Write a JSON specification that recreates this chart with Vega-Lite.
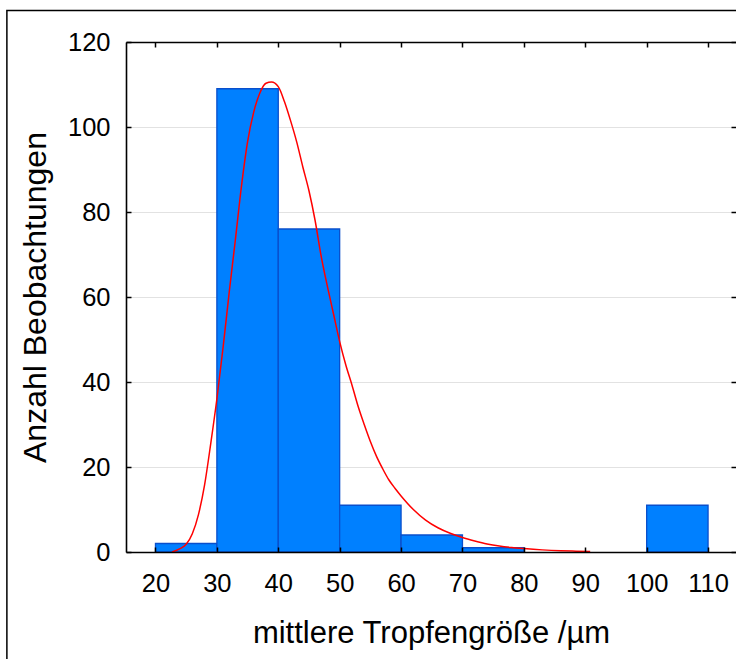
{
  "$schema": "https://vega.github.io/schema/vega-lite/v6.json",
  "width": 610,
  "height": 510,
  "autosize": {"type": "none"},
  "padding": {"left": 126, "top": 42, "right": 0, "bottom": 107},
  "background": "white",
  "config": {
    "view": {"stroke": null},
    "axis": {
      "labelFont": "Liberation Sans",
      "labelFontSize": 25.5,
      "labelColor": "black",
      "titleFont": "Liberation Sans",
      "titleFontWeight": "normal",
      "titleColor": "black",
      "domainColor": "black",
      "domainWidth": 1.6,
      "tickColor": "black",
      "tickWidth": 1.5,
      "tickSize": -5,
      "gridColor": "#e2e2e2",
      "gridWidth": 1
    }
  },
  "datasets": {
    "bins": [
      {"lo": 20, "hi": 30, "n": 2},
      {"lo": 30, "hi": 40, "n": 109},
      {"lo": 40, "hi": 50, "n": 76},
      {"lo": 50, "hi": 60, "n": 11},
      {"lo": 60, "hi": 70, "n": 4},
      {"lo": 70, "hi": 80, "n": 1},
      {"lo": 100, "hi": 110, "n": 11}
    ],
    "fit": [
      {"d": 22.7, "c": 0},
      {"d": 24, "c": 0.8},
      {"d": 25, "c": 1.8},
      {"d": 26, "c": 4.3},
      {"d": 27, "c": 8.8},
      {"d": 28, "c": 15.8},
      {"d": 29, "c": 25.5},
      {"d": 30, "c": 36},
      {"d": 31, "c": 48},
      {"d": 32, "c": 61},
      {"d": 33, "c": 73.3},
      {"d": 34, "c": 86},
      {"d": 35, "c": 96.5},
      {"d": 36, "c": 103.5},
      {"d": 37, "c": 108},
      {"d": 38, "c": 110.3},
      {"d": 38.9, "c": 110.6},
      {"d": 40, "c": 109.5},
      {"d": 41, "c": 106},
      {"d": 42, "c": 101.5},
      {"d": 43, "c": 96.5},
      {"d": 44, "c": 90.6},
      {"d": 45, "c": 85},
      {"d": 46, "c": 78},
      {"d": 47, "c": 69.5},
      {"d": 48, "c": 62.5},
      {"d": 49, "c": 56},
      {"d": 50, "c": 49.5},
      {"d": 51, "c": 44},
      {"d": 52, "c": 39.3},
      {"d": 53, "c": 34.3},
      {"d": 54, "c": 30},
      {"d": 55, "c": 26},
      {"d": 56, "c": 22.5},
      {"d": 57, "c": 19.6},
      {"d": 58, "c": 17},
      {"d": 59, "c": 15},
      {"d": 60, "c": 13.2},
      {"d": 62, "c": 10},
      {"d": 64, "c": 7.5},
      {"d": 66, "c": 5.7},
      {"d": 68, "c": 4.4},
      {"d": 70, "c": 3.4},
      {"d": 72, "c": 2.6},
      {"d": 74, "c": 1.9},
      {"d": 76, "c": 1.4},
      {"d": 78, "c": 1.05},
      {"d": 80, "c": 0.8},
      {"d": 83, "c": 0.5},
      {"d": 86, "c": 0.3},
      {"d": 88.5, "c": 0.2},
      {"d": 90.8, "c": 0.1}
    ],
    "frame": [{"x1": -4.2, "x2": 130, "y1": 127.4, "y2": -40}]
  },
  "layer": [
    {
      "data": {"name": "bins"},
      "mark": {"type": "rect", "fill": "#0080ff", "stroke": "#0a4fcc", "strokeWidth": 1.3},
      "encoding": {
        "x": {
          "field": "lo", "type": "quantitative",
          "scale": {"domain": [15.2, 114.55], "nice": false, "zero": false},
          "axis": {
            "orient": "bottom", "values": [20, 30, 40, 50, 60, 70, 80, 90, 100, 110],
            "grid": false, "labelPadding": 24, "zindex": 1,
            "title": "mittlere Tropfengröße /µm", "titleFontSize": 31, "titlePadding": 22
          }
        },
        "x2": {"field": "hi"},
        "y": {
          "field": "n", "type": "quantitative",
          "scale": {"domain": [0, 120], "nice": false},
          "axis": {
            "orient": "left", "values": [0, 20, 40, 60, 80, 100, 120],
            "grid": false, "labelPadding": 21, "zindex": 1,
            "title": "Anzahl Beobachtungen", "titleFontSize": 32, "titlePadding": 15
          }
        },
        "y2": {"datum": 0}
      }
    },
    {
      "data": {"name": "fit"},
      "mark": {"type": "line", "color": "#ff0000", "strokeWidth": 1.5, "interpolate": "monotone"},
      "encoding": {
        "x": {
          "field": "d", "type": "quantitative",
          "axis": {
            "orient": "top", "values": [20, 30, 40, 50, 60, 70, 80, 90, 100, 110],
            "labels": false, "grid": false, "title": null, "zindex": 1
          }
        },
        "y": {
          "field": "c", "type": "quantitative",
          "axis": {
            "orient": "right", "values": [0, 20, 40, 60, 80, 100, 120],
            "labels": false, "domain": false, "grid": true, "title": null, "zindex": 0
          }
        }
      }
    },
    {
      "data": {"name": "frame"},
      "mark": {"type": "rect", "fill": null, "stroke": "black", "strokeWidth": 1.5, "clip": false},
      "encoding": {
        "x": {"field": "x1", "type": "quantitative", "axis": null},
        "x2": {"field": "x2"},
        "y": {"field": "y1", "type": "quantitative", "axis": null},
        "y2": {"field": "y2"}
      }
    }
  ]
}
